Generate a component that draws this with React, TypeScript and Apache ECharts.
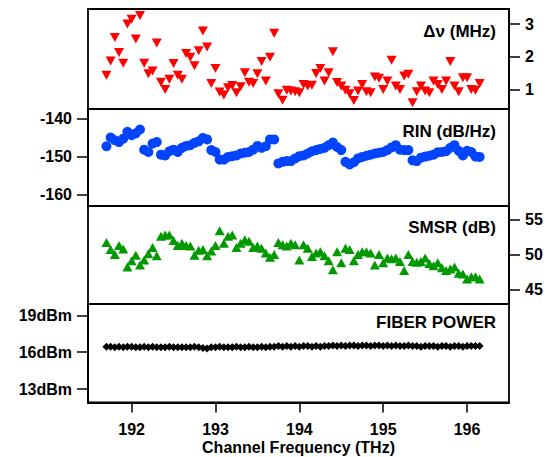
import React, { useEffect, useRef } from "react";
import * as echarts from "echarts";

const freqs = [
  191.70, 191.75, 191.80, 191.85, 191.90, 191.95, 192.00, 192.05, 192.10, 192.15,
  192.20, 192.25, 192.30, 192.35, 192.40, 192.45, 192.50, 192.55, 192.60, 192.65,
  192.70, 192.75, 192.80, 192.85, 192.90, 192.95, 193.00, 193.05, 193.10, 193.15,
  193.20, 193.25, 193.30, 193.35, 193.40, 193.45, 193.50, 193.55, 193.60, 193.65,
  193.70, 193.75, 193.80, 193.85, 193.90, 193.95, 194.00, 194.05, 194.10, 194.15,
  194.20, 194.25, 194.30, 194.35, 194.40, 194.45, 194.50, 194.55, 194.60, 194.65,
  194.70, 194.75, 194.80, 194.85, 194.90, 194.95, 195.00, 195.05, 195.10, 195.15,
  195.20, 195.25, 195.30, 195.35, 195.40, 195.45, 195.50, 195.55, 195.60, 195.65,
  195.70, 195.75, 195.80, 195.85, 195.90, 195.95, 196.00, 196.05, 196.10, 196.15,
];

const linewidth = [
  1.43, 1.87, 2.59, 2.13, 1.80, 3.00, 3.15, 2.54, 3.26, 1.80,
  1.48, 1.56, 2.42, 1.22, 1.00, 1.31, 1.79, 1.43, 1.31, 2.10,
  1.98, 1.72, 2.18, 2.79, 2.30, 1.18, 1.64, 0.92, 0.83, 1.05,
  1.12, 0.90, 1.08, 1.51, 1.22, 1.18, 1.48, 1.85, 1.26, 1.98,
  2.72, 0.87, 0.67, 0.97, 0.95, 0.93, 0.90, 1.15, 1.10, 1.13,
  1.49, 1.64, 1.26, 1.51, 2.15, 1.21, 1.10, 0.97, 0.87, 0.66,
  0.95, 1.15, 0.93, 0.90, 1.38, 1.34, 1.00, 1.26, 1.89, 1.10,
  1.00, 1.41, 1.46, 0.59, 0.93, 1.10, 0.95, 0.90, 1.26, 1.15,
  1.00, 1.26, 1.85, 1.10, 0.93, 1.36, 1.36, 1.00, 0.97, 1.18,
];

const rin = [
  -147.3, -145.0, -145.7, -146.2, -145.3, -143.5, -144.4, -143.9, -142.9, -148.2,
  -148.8, -146.6, -146.2, -149.5, -149.7, -148.6, -148.2, -148.8, -147.7, -147.2,
  -147.0, -146.4, -146.0, -145.1, -145.5, -148.3, -148.8, -150.8, -150.8, -150.1,
  -149.9, -149.7, -149.2, -149.0, -148.8, -148.2, -147.2, -147.7, -147.3, -145.5,
  -145.5, -151.8, -151.4, -151.2, -151.2, -150.5, -149.9, -149.7, -149.2, -148.6,
  -148.3, -148.0, -147.7, -147.0, -146.3, -147.5, -148.3, -151.4, -152.1, -151.5,
  -150.5, -150.1, -149.8, -149.5, -149.2, -149.0, -148.8, -148.3, -147.6, -147.0,
  -148.2, -148.3, -148.3, -151.0, -151.2, -150.3, -150.0, -149.8, -149.5, -148.9,
  -148.8, -148.6, -147.7, -147.0, -148.5, -149.7, -148.5, -148.8, -150.0, -150.1,
];

const smsr = [
  51.7, 50.7, 50.0, 51.3, 50.8, 48.2, 49.1, 49.9, 48.5, 49.2,
  50.1, 51.0, 49.8, 52.6, 52.8, 52.8, 52.0, 51.3, 51.6, 51.3,
  51.2, 49.9, 50.6, 50.7, 49.8, 50.5, 51.3, 53.4, 51.6, 52.6,
  52.8, 51.0, 51.6, 52.1, 51.9, 51.0, 51.2, 50.9, 50.2, 49.6,
  50.0, 51.7, 51.4, 51.2, 51.6, 51.4, 49.2, 51.4, 50.9, 49.7,
  50.2, 50.4, 49.8, 49.1, 47.8, 50.4, 48.8, 50.9, 50.7, 49.1,
  50.0, 50.4, 50.4, 50.2, 48.5, 50.0, 48.8, 49.5, 49.4, 49.5,
  49.0, 47.7, 50.0, 49.0, 48.9, 49.0, 49.5, 48.7, 48.4, 48.8,
  48.1, 47.7, 47.9, 48.2, 47.3, 47.2, 46.5, 46.8, 46.8, 46.5,
];

const power = [
  16.45, 16.45, 16.4, 16.45, 16.4, 16.45, 16.45, 16.4, 16.4, 16.45,
  16.4, 16.45, 16.4, 16.4, 16.4, 16.45, 16.4, 16.4, 16.4, 16.4,
  16.4, 16.45, 16.4, 16.35, 16.3, 16.4, 16.4, 16.45, 16.4, 16.4,
  16.4, 16.45, 16.4, 16.4, 16.45, 16.4, 16.4, 16.45, 16.4, 16.45,
  16.45, 16.5, 16.45, 16.5, 16.45, 16.5, 16.45, 16.5, 16.5, 16.45,
  16.5, 16.45, 16.5, 16.5, 16.55, 16.5, 16.55, 16.5, 16.55, 16.55,
  16.5, 16.55, 16.55, 16.5, 16.55, 16.55, 16.5, 16.55, 16.5, 16.55,
  16.5, 16.5, 16.55, 16.5, 16.5, 16.45, 16.5, 16.5, 16.5, 16.45,
  16.5, 16.5, 16.45, 16.5, 16.5, 16.45, 16.5, 16.5, 16.5, 16.5,
];

const xTicks = [192, 193, 194, 195, 196];
const lwTicks = [1, 2, 3];
const rinTicks = [-160, -150, -140];
const smsrTicks = [45, 50, 55];
const powerTicks = [13, 16, 19];

const panelTitles = ["\u0394\u03bd (MHz)", "RIN (dB/Hz)", "SMSR (dB)", "FIBER POWER"];

const FONT = "'Liberation Sans', Arial, Helvetica, sans-serif";

export default function App() {
  const ref = useRef<HTMLDivElement>(null);
  useEffect(() => {
    if (!ref.current) return;
    const chart = echarts.init(ref.current, null, { renderer: "svg" });
    const L = 88, R = 41;
    const grids = [
      { left: L, right: R, top: 9, height: 100 },
      { left: L, right: R, top: 109, height: 97 },
      { left: L, right: R, top: 206, height: 98 },
      { left: L, right: R, top: 304, height: 98.5 },
    ].map((g) => ({ ...g, show: true, borderColor: "#000", borderWidth: 1.8, backgroundColor: "transparent" }));

    const labelStyle = { fontFamily: FONT, fontWeight: "bold" as const, fontSize: 16, color: "#000" };
    const axisLine = { show: true, lineStyle: { color: "#000", width: 1.8 } };

    const xAxes = [0, 1, 2, 3].map((i) => ({
      type: "value" as const,
      gridIndex: i,
      min: 191.48,
      max: 196.5,
      show: i === 3,
      splitLine: { show: false },
      axisLine,
      axisTick: { show: true, length: 10, lineStyle: { color: "#000", width: 1.5 }, customValues: xTicks },
      axisLabel: { ...labelStyle, margin: 19, customValues: xTicks },
      name: i === 3 ? "Channel Frequency (THz)" : "",
      nameLocation: "middle" as const,
      nameGap: 37,
      nameTextStyle: { fontFamily: FONT, fontWeight: "bold", fontSize: 16, color: "#000" },
    }));

    const mkY = (i: number, pos: "left" | "right", min: number, max: number, ticks: number[], fmt?: string) => ({
      type: "value" as const,
      gridIndex: i,
      position: pos,
      min,
      max,
      splitLine: { show: false },
      axisLine,
      axisTick: { show: true, length: 11, lineStyle: { color: "#000", width: 1.5 }, customValues: ticks },
      axisLabel: { ...labelStyle, margin: 16, customValues: ticks, formatter: fmt || "{value}" },
    });

    const yAxes = [
      mkY(0, "right", 0.4, 3.46, lwTicks),
      mkY(1, "left", -163, -137.5, rinTicks),
      mkY(2, "right", 42.9, 56.95, smsrTicks),
      mkY(3, "left", 11.9, 19.93, powerTicks, "{value}dBm"),
    ];

    const titleY = [31.7, 131, 227.7, 322.3];
    const graphic = panelTitles.map((t, i) => ({
      type: "text" as const,
      x: 496,
      y: titleY[i],
      style: {
        text: t,
        fill: "#000",
        font: `bold 17px ${FONT}`,
        textAlign: "right",
        textVerticalAlign: "middle",
      },
    }));

    chart.setOption({
      animation: false,
      grid: grids,
      xAxis: xAxes,
      yAxis: yAxes,
      graphic,
      series: [
        {
          type: "scatter",
          xAxisIndex: 0,
          yAxisIndex: 0,
          data: freqs.map((f, i) => [f, linewidth[i]]),
          symbol: "triangle",
          symbolRotate: 180,
          symbolSize: [10, 9],
          itemStyle: { color: "#ff0000", opacity: 1 },
        },
        {
          type: "scatter",
          xAxisIndex: 1,
          yAxisIndex: 1,
          data: freqs.map((f, i) => [f, rin[i]]),
          symbol: "circle",
          symbolSize: 10,
          itemStyle: { color: "#0044ff", opacity: 1 },
        },
        {
          type: "scatter",
          xAxisIndex: 2,
          yAxisIndex: 2,
          data: freqs.map((f, i) => [f, smsr[i]]),
          symbol: "triangle",
          symbolSize: [10, 9],
          itemStyle: { color: "#009900", opacity: 1 },
        },
        {
          type: "scatter",
          xAxisIndex: 3,
          yAxisIndex: 3,
          data: freqs.map((f, i) => [f, power[i]]),
          symbol: "diamond",
          symbolSize: [8, 8],
          itemStyle: { color: "#000", opacity: 1 },
        },
      ],
    });
    return () => chart.dispose();
  }, []);
  return (
    <div
      ref={ref}
      style={{ position: "fixed", left: 0, top: 0, width: 550, height: 457, background: "#fff" }}
    />
  );
}
